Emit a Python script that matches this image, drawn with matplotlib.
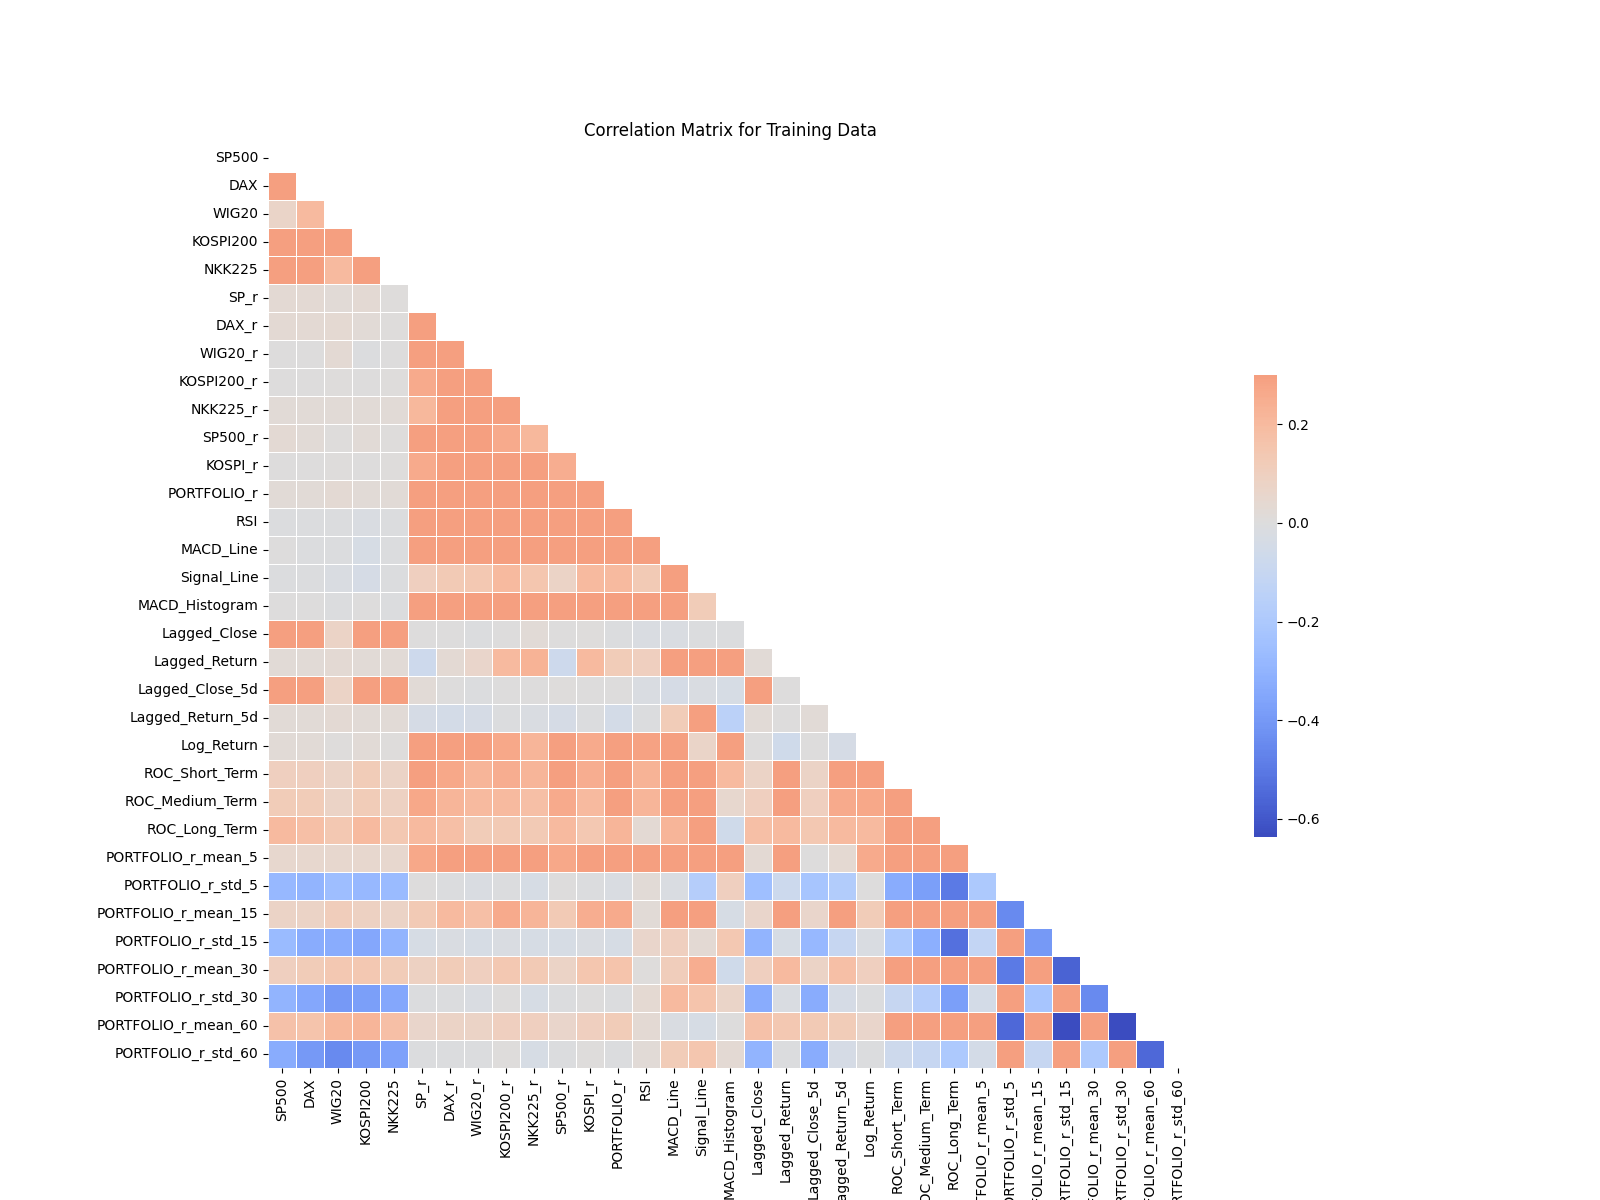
import numpy as np
import pandas as pd
import matplotlib
matplotlib.use("Agg")
import matplotlib.pyplot as plt
import seaborn as sns

features = ["SP500", "DAX", "WIG20", "KOSPI200", "NKK225", "SP_r", "DAX_r", "WIG20_r",
            "KOSPI200_r", "NKK225_r", "SP500_r", "KOSPI_r", "PORTFOLIO_r", "RSI",
            "MACD_Line", "Signal_Line", "MACD_Histogram", "Lagged_Close", "Lagged_Return",
            "Lagged_Close_5d", "Lagged_Return_5d", "Log_Return", "ROC_Short_Term",
            "ROC_Medium_Term", "ROC_Long_Term", "PORTFOLIO_r_mean_5", "PORTFOLIO_r_std_5",
            "PORTFOLIO_r_mean_15", "PORTFOLIO_r_std_15", "PORTFOLIO_r_mean_30",
            "PORTFOLIO_r_std_30", "PORTFOLIO_r_mean_60", "PORTFOLIO_r_std_60"]

# lower triangle of the correlation matrix, row i holds corr with columns 0..i-1
lower_tri = [
    [],
    [0.92],
    [0.07, 0.2],
    [0.85, 0.88, 0.6],
    [0.9, 0.85, 0.2, 0.8],
    [0.03, 0.03, 0.02, 0.03, 0.01],
    [0.03, 0.03, 0.04, 0.02, 0.01, 0.5],
    [0.0, 0.0, 0.03, -0.01, 0.0, 0.45, 0.55],
    [0.0, 0.0, 0.01, 0.0, 0.01, 0.26, 0.4, 0.4],
    [0.02, 0.02, 0.02, 0.02, 0.02, 0.21, 0.35, 0.35, 0.5],
    [0.03, 0.02, 0.01, 0.02, 0.01, 0.9, 0.5, 0.42, 0.26, 0.21],
    [0.0, 0.0, 0.01, 0.0, 0.01, 0.26, 0.4, 0.4, 0.9, 0.45, 0.25],
    [0.02, 0.02, 0.03, 0.02, 0.02, 0.6, 0.7, 0.7, 0.6, 0.6, 0.6, 0.6],
    [-0.01, -0.01, -0.01, -0.02, -0.01, 0.4, 0.45, 0.45, 0.4, 0.4, 0.4, 0.4, 0.55],
    [0.0, -0.01, -0.01, -0.03, -0.01, 0.35, 0.4, 0.4, 0.35, 0.35, 0.35, 0.35, 0.45, 0.6],
    [-0.01, -0.01, -0.02, -0.04, -0.01, 0.1, 0.13, 0.14, 0.2, 0.15, 0.08, 0.2, 0.2, 0.13, 0.75],
    [0.0, 0.0, -0.01, 0.0, -0.01, 0.4, 0.42, 0.42, 0.35, 0.38, 0.4, 0.35, 0.5, 0.5, 0.6, 0.12],
    [0.95, 0.9, 0.08, 0.85, 0.88, 0.0, 0.0, -0.01, 0.0, 0.02, 0.0, 0.01, -0.01, -0.02, -0.02,
     -0.005, -0.005],
    [0.02, 0.02, 0.03, 0.02, 0.02, -0.07, 0.03, 0.06, 0.2, 0.23, -0.07, 0.2, 0.12, 0.1, 0.35,
     0.4, 0.35, 0.02],
    [0.9, 0.88, 0.08, 0.82, 0.85, 0.02, 0.0, -0.01, 0.0, 0.0, 0.01, 0.0, 0.0, -0.02, -0.04,
     -0.02, -0.03, 0.95, 0.0],
    [0.02, 0.02, 0.03, 0.02, 0.02, -0.04, -0.05, -0.04, -0.01, -0.02, -0.04, -0.01, -0.05,
     -0.01, 0.12, 0.45, -0.15, 0.02, 0.0, 0.02],
    [0.02, 0.02, 0.01, 0.02, 0.01, 0.55, 0.45, 0.4, 0.27, 0.22, 0.55, 0.26, 0.95, 0.29, 0.35,
     0.07, 0.4, 0.0, -0.06, 0.0, -0.04],
    [0.1, 0.1, 0.08, 0.12, 0.08, 0.35, 0.27, 0.22, 0.25, 0.22, 0.35, 0.25, 0.4, 0.23, 0.5,
     0.3, 0.2, 0.08, 0.35, 0.08, 0.4, 0.4],
    [0.12, 0.12, 0.08, 0.12, 0.09, 0.27, 0.22, 0.2, 0.2, 0.18, 0.26, 0.2, 0.32, 0.22, 0.6,
     0.45, 0.05, 0.1, 0.35, 0.1, 0.26, 0.27, 0.5],
    [0.2, 0.18, 0.14, 0.2, 0.14, 0.2, 0.18, 0.12, 0.13, 0.13, 0.2, 0.14, 0.22, 0.03, 0.22,
     0.5, -0.06, 0.18, 0.2, 0.14, 0.2, 0.2, 0.4, 0.5],
    [0.05, 0.05, 0.05, 0.05, 0.05, 0.27, 0.35, 0.35, 0.35, 0.35, 0.27, 0.35, 0.4, 0.35, 0.4,
     0.5, 0.35, 0.03, 0.4, 0.0, 0.04, 0.26, 0.6, 0.5, 0.45],
    [-0.28, -0.3, -0.26, -0.28, -0.27, 0.0, -0.01, -0.02, -0.01, -0.03, 0.0, -0.01, -0.02,
     0.02, -0.02, -0.17, 0.1, -0.25, -0.08, -0.22, -0.18, 0.0, -0.33, -0.38, -0.5, -0.2],
    [0.08, 0.08, 0.11, 0.09, 0.08, 0.13, 0.2, 0.18, 0.26, 0.22, 0.13, 0.25, 0.26, 0.02, 0.35,
     0.4, -0.03, 0.06, 0.4, 0.06, 0.35, 0.12, 0.4, 0.4, 0.35, 0.5, -0.45],
    [-0.27, -0.33, -0.33, -0.35, -0.3, -0.03, -0.02, -0.03, -0.02, -0.03, -0.03, -0.02, -0.03,
     0.06, 0.1, 0.03, 0.14, -0.3, -0.03, -0.28, -0.1, -0.02, -0.2, -0.32, -0.53, -0.12, 0.4,
     -0.4],
    [0.1, 0.12, 0.14, 0.14, 0.12, 0.09, 0.12, 0.1, 0.14, 0.13, 0.08, 0.15, 0.16, 0.01, 0.11,
     0.25, -0.06, 0.1, 0.2, 0.08, 0.18, 0.1, 0.35, 0.35, 0.4, 0.45, -0.5, 0.6, -0.57],
    [-0.3, -0.35, -0.4, -0.38, -0.35, -0.01, -0.01, -0.02, 0.0, -0.03, -0.01, 0.0, -0.01,
     0.04, 0.2, 0.16, 0.07, -0.33, -0.02, -0.33, -0.04, -0.01, -0.1, -0.17, -0.38, -0.05,
     0.5, -0.22, 0.7, -0.45],
    [0.17, 0.16, 0.21, 0.22, 0.18, 0.06, 0.08, 0.08, 0.1, 0.1, 0.06, 0.1, 0.12, 0.03, -0.02,
     -0.03, 0.0, 0.17, 0.14, 0.13, 0.12, 0.06, 0.35, 0.4, 0.45, 0.4, -0.55, 0.5, -0.637, 0.7,
     -0.63],
    [-0.33, -0.4, -0.45, -0.4, -0.37, -0.01, -0.01, -0.01, 0.01, -0.03, -0.01, 0.01, -0.01,
     0.02, 0.12, 0.15, 0.03, -0.3, -0.01, -0.33, -0.04, -0.01, -0.07, -0.1, -0.2, -0.05, 0.5,
     -0.1, 0.6, -0.2, 0.8, -0.55],
]

n = len(features)
corr_arr = np.eye(n)
for i, row in enumerate(lower_tri):
    assert len(row) == i, (i, len(row))
    for j, v in enumerate(row):
        corr_arr[i, j] = v
        corr_arr[j, i] = v
corr = pd.DataFrame(corr_arr, index=features, columns=features)

mask = np.triu(np.ones_like(corr, dtype=bool))

plt.figure(figsize=(16, 12))
sns.heatmap(corr, mask=mask, cmap='coolwarm', vmax=.3, center=0,
            square=True, linewidths=.5, cbar_kws={"shrink": .5})
plt.title('Correlation Matrix for Training Data')
plt.savefig("out.png", dpi=100)
